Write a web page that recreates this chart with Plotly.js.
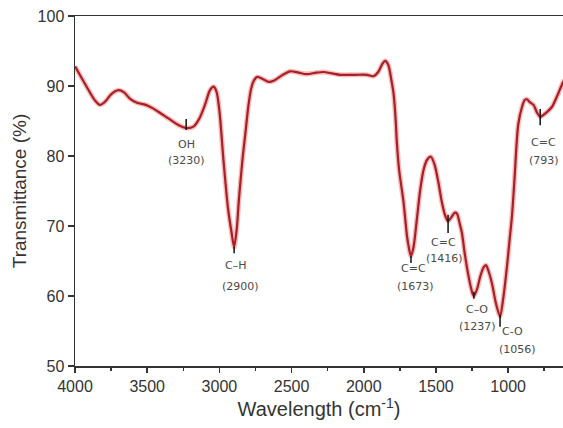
<!DOCTYPE html>
<html>
<head>
<meta charset="utf-8">
<script src="https://cdn.plot.ly/plotly-3.0.1.min.js"></script>
<style>html,body{margin:0;padding:0;background:#fff;}#chart{width:563px;height:428px;}</style>
</head>
<body>
<div id="chart"></div>
<script>
// Spectrum (wavenumber, transmittance %)
var wavenumber = [4000,3950,3900,3860,3827,3790,3750,3700,3660,3620,3570,3510,3460,3400,3340,3290,3230,3180,3140,3100,3065,3040,3020,3000,2970,2940,2915,2898,2880,2865,2840,2820,2800,2780,2760,2737,2700,2660,2620,2560,2510,2450,2395,2330,2280,2220,2164,2060,1979,1933,1900,1870,1852,1830,1810,1794,1780,1771,1755,1725,1700,1690,1673,1655,1632,1610,1586,1560,1535,1510,1482,1460,1436,1416,1395,1370,1355,1335,1320,1300,1274,1250,1237,1215,1193,1170,1154,1135,1112,1085,1056,1035,1008,990,974,955,944,930,904,885,870,850,824,800,778,760,730,697,660,623,610];
var transmittance = [92.8,91.0,89.2,87.9,87.3,87.8,88.8,89.4,89.1,88.2,87.6,87.3,86.8,86.0,85.2,84.5,84.0,84.2,85.3,87.3,89.4,89.9,89.2,86.5,79.0,72.5,69.0,67.0,69.5,73.7,79.5,83.2,87.0,89.6,90.8,91.3,91.0,90.6,90.8,91.6,92.1,91.9,91.7,91.9,92.0,91.8,91.6,91.6,91.6,91.4,92.0,93.2,93.6,93.0,91.0,89.0,85.5,82.0,78.0,73.5,68.5,67.2,65.7,67.0,71.0,75.0,78.0,79.5,79.9,78.8,76.1,73.5,71.5,70.7,71.2,71.9,71.8,70.3,69.0,66.0,62.8,60.6,60.0,61.0,62.8,64.1,64.4,63.5,61.8,59.0,57.1,59.5,64.2,68.0,71.3,77.0,80.9,84.5,87.0,88.0,88.1,87.7,87.3,86.2,85.6,85.8,86.3,87.0,88.6,90.4,90.9];

// Peak annotations
var peakGroup  = ["OH","C–H","C=C","C=C","C–O","C-O","C=C"];
var peakLabel  = ["(3230)","(2900)","(1673)","(1416)","(1237)","(1056)","(793)"];
var peakX      = [3230,2898,1673,1416,1237,1056,778];
var markTop    = [85.3,67.0,65.7,71.6,60.6,57.3,86.7];
var markBottom = [83.7,66.1,64.7,69.0,59.6,55.6,84.4];
var groupX     = [3230,2891,1658,1450,1214,972,757];
var groupY     = [81.7,64.3,63.9,67.6,58.1,54.9,81.9];
var labelX     = [3225,2856,1644,1443,1214,937,750];
var labelY     = [79.4,61.4,61.4,65.3,55.7,52.4,79.4];

var xTickVals = [4000,3500,3000,2500,2000,1500,1000];

var traces = [
  {x: wavenumber, y: transmittance, type: 'scatter', mode: 'lines',
   line: {color: 'rgba(225,70,70,0.35)', width: 5, shape: 'spline', smoothing: 0.8},
   hoverinfo: 'skip', showlegend: false},
  {x: wavenumber, y: transmittance, type: 'scatter', mode: 'lines',
   line: {color: '#a81f26', width: 2.2, shape: 'spline', smoothing: 0.8},
   showlegend: false}
];

var shapes = [];
var annotations = [];
var annFont = {family: 'DejaVu Sans, Arial, sans-serif', size: 11, color: '#4a4a4a'};
for (var i = 0; i < peakX.length; i++) {
  shapes.push({type: 'line', xref: 'x', yref: 'y', x0: peakX[i], x1: peakX[i],
               y0: markBottom[i], y1: markTop[i], line: {color: '#111', width: 1.5}});
  annotations.push({x: groupX[i], y: groupY[i], xref: 'x', yref: 'y', text: peakGroup[i],
                    showarrow: false, font: annFont, xanchor: 'center', yanchor: 'middle'});
  annotations.push({x: labelX[i], y: labelY[i], xref: 'x', yref: 'y', text: peakLabel[i],
                    showarrow: false, font: annFont, xanchor: 'center', yanchor: 'middle'});
}

var axisFont = {family: 'Liberation Sans, Arial, sans-serif', size: 16, color: '#333'};

var layout = {
  width: 563, height: 428,
  margin: {l: 75, r: 0, t: 16, b: 62},
  paper_bgcolor: '#fff', plot_bgcolor: '#fff',
  showlegend: false,
  xaxis: {
    range: [4000, 620],
    tickvals: xTickVals,
    ticktext: xTickVals.map(String),
    ticks: 'outside', ticklen: 5, tickwidth: 1.5, tickcolor: '#333',
    minor: {ticks: 'outside', ticklen: 3, tickwidth: 1.5, tickcolor: '#333', dtick: 250, tick0: 0},
    showline: true, linecolor: '#333', linewidth: 1.5, mirror: true,
    showgrid: false, zeroline: false,
    tickfont: axisFont,
    title: {text: 'Wavelength (cm<sup>-1</sup>)', font: {family: 'Liberation Sans, Arial, sans-serif', size: 20, color: '#333'}, standoff: 8}
  },
  yaxis: {
    range: [50, 100],
    dtick: 10,
    ticks: 'outside', ticklen: 6, tickwidth: 1.5, tickcolor: '#333',
    showline: true, linecolor: '#333', linewidth: 1.5, mirror: false,
    showgrid: false, zeroline: false,
    tickfont: axisFont,
    title: {text: 'Transmittance (%)', font: {family: 'Liberation Sans, Arial, sans-serif', size: 19, color: '#333'}, standoff: 6}
  },
  shapes: shapes,
  annotations: annotations
};

Plotly.newPlot('chart', traces, layout, {displayModeBar: false, staticPlot: true});
</script>
</body>
</html>
